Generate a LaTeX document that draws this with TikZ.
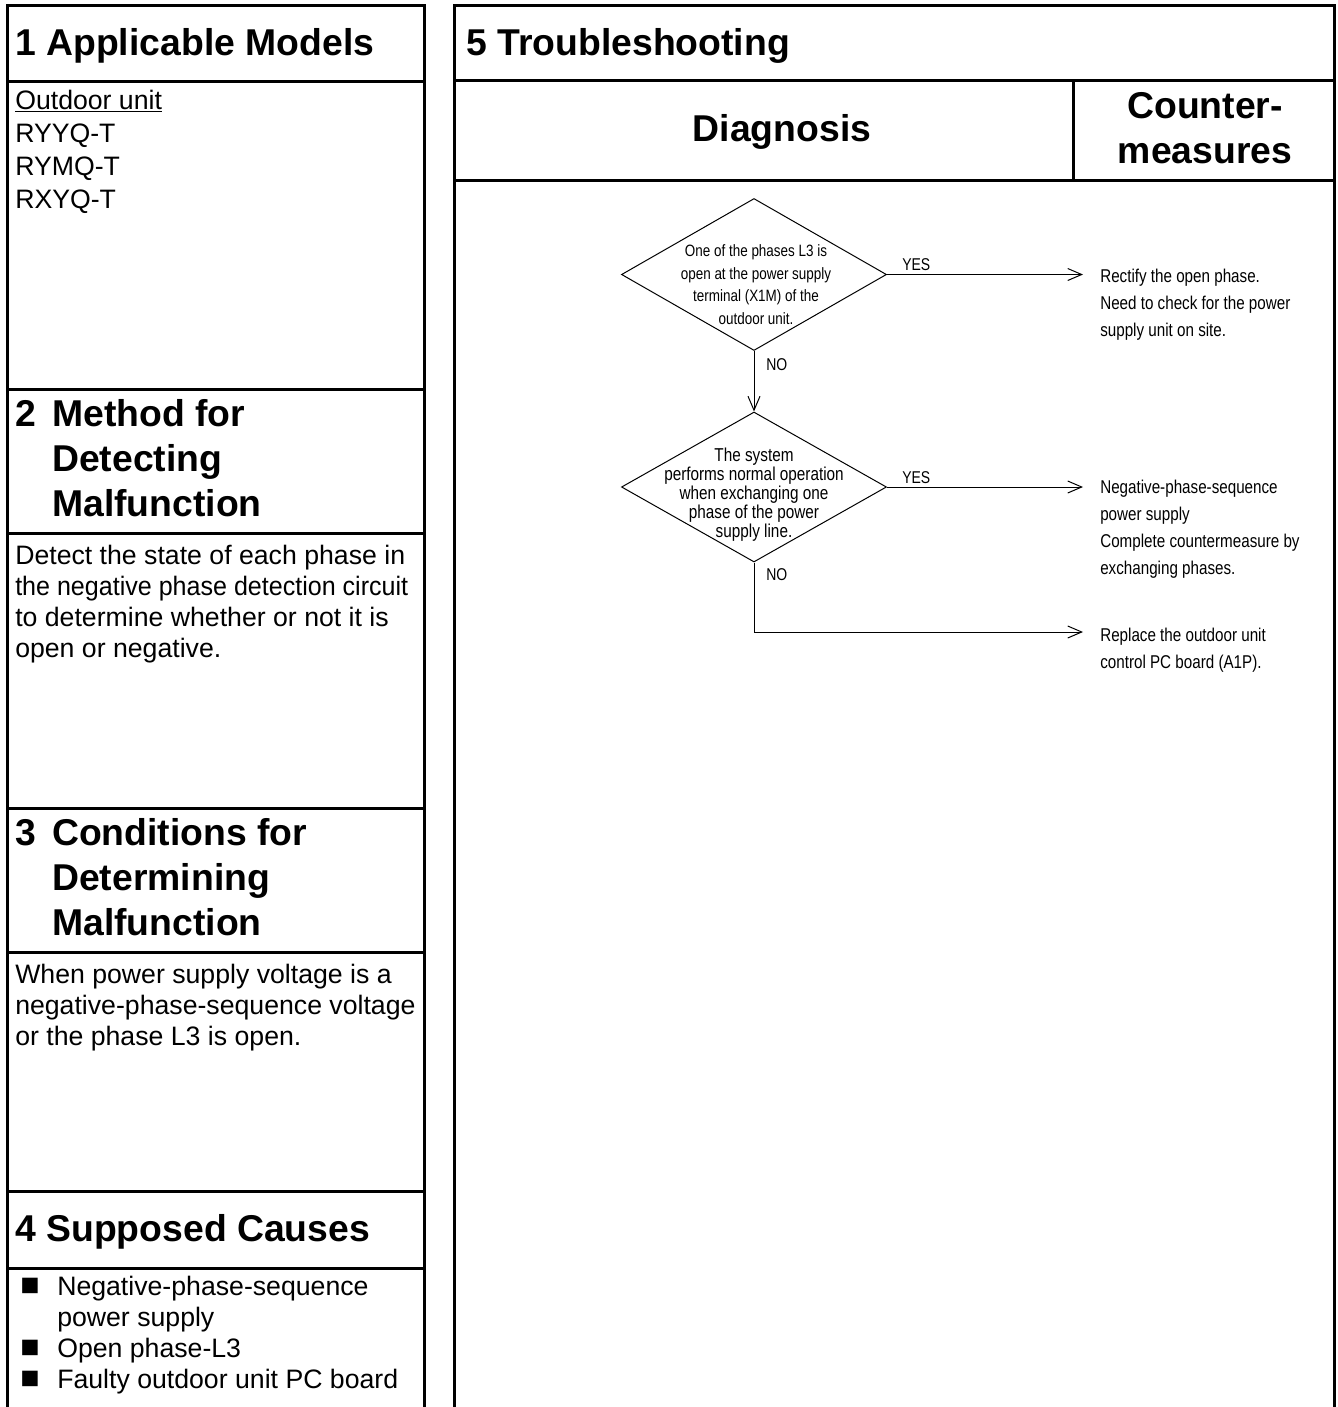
\documentclass[tikz,border=0pt]{standalone}
\usepackage{fontspec}
\setmainfont{Liberation Sans}
\newfontfamily\narrowfont[FakeStretch=0.82]{Liberation Sans}
\usetikzlibrary{shapes.geometric,arrows.meta}

\newlength{\du}
\setlength{\du}{0.75pt}
\newcommand{\sqbullet}{\makebox[37\du][l]{\scalebox{1.2}{■}}}

\tikzset{
  frame/.style={line width=3\du, line join=miter},
  flow/.style={line width=1\du, -{Straight Barb[length=10.5pt, width=9pt]}},
  decision/.style={diamond, draw, line width=1\du, minimum width=265\du,
    minimum height=152\du, inner sep=0pt},
  heading/.style={font=\fontsize{28pt}{33.75pt}\selectfont\bfseries,
    inner sep=0pt, anchor=base west, align=left},
  body/.style={font=\fontsize{20pt}{23.25pt}\selectfont, inner sep=0pt,
    anchor=base west, align=left},
  qtext/.style={inner sep=0pt, anchor=base, align=center},
  answer/.style={font=\narrowfont\fontsize{12.8pt}{14pt}\selectfont,
    inner sep=0pt, anchor=base west},
  remedy/.style={font=\narrowfont\fontsize{13.9pt}{20.25pt}\selectfont,
    inner xsep=17\du, inner ysep=0pt, anchor=base west, align=left},
}

\begin{document}
\begin{tikzpicture}[x=\du,y=-\du]
\useasboundingbox (0,0) rectangle (1338,1407);

% left column
\draw[frame] (7.5,1410) -- (7.5,5) -- (424,5) -- (424,1410);
\foreach \yy in {81,389,533,808,952,1191,1268}
  \draw[frame] (7.5,\yy) -- (424,\yy);

% right column
\draw[frame] (454,1410) -- (454,5) -- (1334,5) -- (1334,1410);
\draw[frame] (454,80) -- (1334,80);
\draw[frame] (454,180) -- (1334,180);
\draw[frame] (1073,80) -- (1073,180);

% section headings (multi-line nodes sit on their last baseline)
\node[heading] (h1) at (15,55) {1 Applicable Models};
\node[heading] (h2) at (15,516) {\makebox[37\du][l]{2}Method for\\
  \hspace*{37\du}Detecting\\\hspace*{37\du}Malfunction};
\node[heading] (h3) at (15,935) {\makebox[37\du][l]{3}Conditions for\\
  \hspace*{37\du}Determining\\\hspace*{37\du}Malfunction};
\node[heading] (h4) at (15,1241) {4 Supposed Causes};
\node[heading] (h5) at (466,55) {5 Troubleshooting};
\node[heading, anchor=base] (diag) at (782,141) {Diagnosis};
\node[heading, anchor=base, align=center, font=\fontsize{28pt}{45\du}\selectfont\bfseries]
  (cmeas) at (1205,163) {Counter-\\measures};

% section texts
\node[body, font=\fontsize{20pt}{24.75pt}\selectfont] (models) at (15,208)
  {\underline{Outdoor unit}\\RYYQ-T\\RYMQ-T\\RXYQ-T};
\node[body] (detect) at (15,657) {Detect the state of each phase in\\
  \scalebox{0.94}[1]{the negative phase detection circuit}\\
  to determine whether or not it is\\open or negative.};
\node[body] (cond) at (15,1045) {When power supply voltage is a\\
  negative-phase-sequence voltage\\or the phase L3 is open.};
\node[body] (causes) at (20,1388) {\sqbullet Negative-phase-sequence\\
  \hspace*{37\du}power supply\\\sqbullet Open phase-L3\\
  \sqbullet Faulty outdoor unit PC board};

% flowchart
\node[decision] (q1) at (754,274.5) {};
\node[qtext, font=\narrowfont\fontsize{12.3pt}{16.9pt}\selectfont] (q1t) at (756,324.5)
  {One of the phases L3 is\\open at the power supply\\terminal (X1M) of the\\outdoor unit.};
\node[decision, minimum height=150\du] (q2) at (754,487) {};
\node[qtext, font=\narrowfont\fontsize{14pt}{14.25pt}\selectfont] (q2t) at (754,537)
  {The system\\performs normal operation\\when exchanging one\\phase of the power\\supply line.};

\node[remedy] (r1) at (1083,336) {Rectify the open phase.\\Need to check for the power\\supply unit on site.};
\node[remedy] (r2) at (1083,574) {Negative-phase-sequence\\power supply\\Complete countermeasure by\\exchanging phases.};
\node[remedy] (r3) at (1083,668) {Replace the outdoor unit\\control PC board (A1P).};
\coordinate (bend) at (754,632);

\draw[flow] (q1.east) -- (q1.east -| r1.west);
\draw[flow] (q1.south) -- (q2.north);
\draw[flow] (q2.east) -- (q2.east -| r2.west);
\draw[flow] (q2.south) -- (bend) -- (bend -| r3.west);

\node[answer] (yes1) at (902,270) {YES};
\node[answer] (no1) at (766,370) {NO};
\node[answer] (yes2) at (902,483) {YES};
\node[answer] (no2) at (766,580) {NO};
\end{tikzpicture}
\end{document}
